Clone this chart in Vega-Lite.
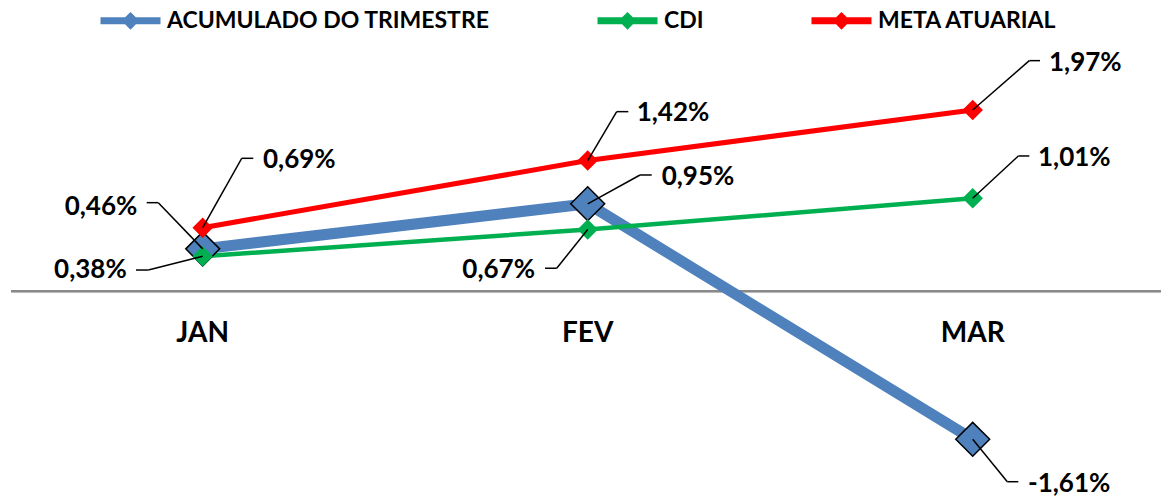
{
  "$schema": "https://vega.github.io/schema/vega-lite/v6.json",
  "width": 1150,
  "height": 497,
  "padding": {"left": 11, "top": 0, "right": 0, "bottom": 0},
  "autosize": {"type": "none"},
  "background": "white",
  "config": {
    "view": {"stroke": null},
    "font": "Lato",
    "legend": {
      "orient": "none",
      "legendX": 86,
      "legendY": -13,
      "direction": "horizontal",
      "padding": 0,
      "labelFont": "Lato",
      "labelFontSize": 23,
      "labelFontWeight": "bold",
      "labelColor": "#000000",
      "labelOffset": 3,
      "labelLimit": 600,
      "columnPadding": 93,
      "symbolSize": 3600,
      "symbolStrokeWidth": 7,
      "symbolOpacity": 1,
      "symbolType": "M-1,0H-0.13L0,-0.13L0.13,0L0,0.13L-0.13,0M0.13,0H1"
    }
  },
  "data": {
    "values": [
      {"month": "JAN", "series": "ACUMULADO DO TRIMESTRE", "value": 0.46},
      {"month": "FEV", "series": "ACUMULADO DO TRIMESTRE", "value": 0.95},
      {"month": "MAR", "series": "ACUMULADO DO TRIMESTRE", "value": -1.61},
      {"month": "JAN", "series": "CDI", "value": 0.38},
      {"month": "FEV", "series": "CDI", "value": 0.67},
      {"month": "MAR", "series": "CDI", "value": 1.01},
      {"month": "JAN", "series": "META ATUARIAL", "value": 0.69},
      {"month": "FEV", "series": "META ATUARIAL", "value": 1.42},
      {"month": "MAR", "series": "META ATUARIAL", "value": 1.97}
    ]
  },
  "transform": [
    {"calculate": "(datum.value < 0 ? '-' : '') + replace(format(abs(datum.value), '.2f'), '.', ',') + '%'", "as": "label"}
  ],
  "encoding": {
    "x": {"field": "month", "type": "ordinal", "sort": ["JAN", "FEV", "MAR"], "scale": {"type": "point", "padding": 0.4935, "align": 0.5045}, "axis": null},
    "y": {"field": "value", "type": "quantitative", "scale": {"domain": [-2.237, 3.165], "nice": false, "zero": false}, "axis": null}
  },
  "layer": [
    {
      "transform": [{"filter": "datum.series === 'CDI'"}],
      "mark": {"type": "rule", "color": "#898989", "strokeWidth": 2},
      "encoding": {"x": {"value": 0}, "x2": {"value": 1150}, "y": {"datum": 0, "type": "quantitative"}}
    },
    {
      "transform": [{"filter": "datum.series === 'CDI'"}],
      "mark": {"type": "text", "font": "Lato", "fontSize": 28, "fontWeight": "bold", "baseline": "middle", "align": "center", "color": "#000000"},
      "encoding": {"y": {"datum": -0.47, "type": "quantitative"}, "text": {"field": "month"}}
    },
    {
      "transform": [{"filter": "datum.series === 'ACUMULADO DO TRIMESTRE'"}],
      "mark": {"type": "line", "strokeWidth": 11, "strokeCap": "round", "strokeJoin": "round"},
      "encoding": {
        "color": {
          "field": "series", "type": "nominal",
          "scale": {"domain": ["ACUMULADO DO TRIMESTRE", "CDI", "META ATUARIAL"], "range": ["#4F81BD", "#00B050", "#FF0000"]},
          "legend": {"title": null}
        }
      }
    },
    {
      "transform": [{"filter": "datum.series === 'CDI'"}],
      "mark": {"type": "line", "strokeWidth": 4.5, "strokeCap": "round", "strokeJoin": "round"},
      "encoding": {"color": {"field": "series", "type": "nominal"}}
    },
    {
      "transform": [{"filter": "datum.series === 'META ATUARIAL'"}],
      "mark": {"type": "line", "strokeWidth": 5, "strokeCap": "round", "strokeJoin": "round"},
      "encoding": {"color": {"field": "series", "type": "nominal"}}
    },
    {
      "transform": [{"filter": "datum.series === 'ACUMULADO DO TRIMESTRE'"}],
      "mark": {"type": "point", "shape": "diamond", "filled": true, "fill": "#4F81BD", "stroke": "#000000", "strokeWidth": 1.5, "size": 1150, "opacity": 1}
    },
    {
      "transform": [{"filter": "datum.series === 'CDI'"}],
      "mark": {"type": "point", "shape": "diamond", "filled": true, "fill": "#00B050", "strokeWidth": 0, "size": 420, "opacity": 1}
    },
    {
      "transform": [{"filter": "datum.series === 'META ATUARIAL'"}],
      "mark": {"type": "point", "shape": "diamond", "filled": true, "fill": "#FF0000", "strokeWidth": 0, "size": 420, "opacity": 1}
    },
    {
      "transform": [{"filter": "datum.series === 'META ATUARIAL' && datum.month === 'JAN'"}],
      "layer": [
        {"mark": {"type": "rule", "color": "#000000", "strokeWidth": 1.5, "x2Offset": 39, "y2Offset": -69.4}, "encoding": {"x2": {"field": "month"}, "y2": {"field": "value"}}},
        {"mark": {"type": "rule", "color": "#000000", "strokeWidth": 1.5, "xOffset": 39, "yOffset": -69.4, "x2Offset": 50.6, "y2Offset": -69.4}, "encoding": {"x2": {"field": "month"}, "y2": {"field": "value"}}},
        {"mark": {"type": "text", "align": "left", "baseline": "middle", "dx": 60.3, "dy": -67.7, "font": "Lato", "fontSize": 26, "fontWeight": "bold", "color": "#000000"}, "encoding": {"text": {"field": "label"}}}
      ]
    },
    {
      "transform": [{"filter": "datum.series === 'ACUMULADO DO TRIMESTRE' && datum.month === 'JAN'"}],
      "layer": [
        {"mark": {"type": "rule", "color": "#000000", "strokeWidth": 1.5, "x2Offset": -44.4, "y2Offset": -46.2}, "encoding": {"x2": {"field": "month"}, "y2": {"field": "value"}}},
        {"mark": {"type": "rule", "color": "#000000", "strokeWidth": 1.5, "xOffset": -44.4, "yOffset": -46.2, "x2Offset": -56, "y2Offset": -46.2}, "encoding": {"x2": {"field": "month"}, "y2": {"field": "value"}}},
        {"mark": {"type": "text", "align": "right", "baseline": "middle", "dx": -65.4, "dy": -42.2, "font": "Lato", "fontSize": 26, "fontWeight": "bold", "color": "#000000"}, "encoding": {"text": {"field": "label"}}}
      ]
    },
    {
      "transform": [{"filter": "datum.series === 'CDI' && datum.month === 'JAN'"}],
      "layer": [
        {"mark": {"type": "rule", "color": "#000000", "strokeWidth": 1.5, "x2Offset": -54.4, "y2Offset": 13.8}, "encoding": {"x2": {"field": "month"}, "y2": {"field": "value"}}},
        {"mark": {"type": "rule", "color": "#000000", "strokeWidth": 1.5, "xOffset": -54.4, "yOffset": 13.8, "x2Offset": -66.7, "y2Offset": 13.8}, "encoding": {"x2": {"field": "month"}, "y2": {"field": "value"}}},
        {"mark": {"type": "text", "align": "right", "baseline": "middle", "dx": -76, "dy": 13.8, "font": "Lato", "fontSize": 26, "fontWeight": "bold", "color": "#000000"}, "encoding": {"text": {"field": "label"}}}
      ]
    },
    {
      "transform": [{"filter": "datum.series === 'META ATUARIAL' && datum.month === 'FEV'"}],
      "layer": [
        {"mark": {"type": "rule", "color": "#000000", "strokeWidth": 1.5, "x2Offset": 29, "y2Offset": -48.9}, "encoding": {"x2": {"field": "month"}, "y2": {"field": "value"}}},
        {"mark": {"type": "rule", "color": "#000000", "strokeWidth": 1.5, "xOffset": 29, "yOffset": -48.9, "x2Offset": 40.6, "y2Offset": -48.9}, "encoding": {"x2": {"field": "month"}, "y2": {"field": "value"}}},
        {"mark": {"type": "text", "align": "left", "baseline": "middle", "dx": 49, "dy": -47.6, "font": "Lato", "fontSize": 26, "fontWeight": "bold", "color": "#000000"}, "encoding": {"text": {"field": "label"}}}
      ]
    },
    {
      "transform": [{"filter": "datum.series === 'ACUMULADO DO TRIMESTRE' && datum.month === 'FEV'"}],
      "layer": [
        {"mark": {"type": "rule", "color": "#000000", "strokeWidth": 1.5, "x2Offset": 52.3, "y2Offset": -28.8}, "encoding": {"x2": {"field": "month"}, "y2": {"field": "value"}}},
        {"mark": {"type": "rule", "color": "#000000", "strokeWidth": 1.5, "xOffset": 52.3, "yOffset": -28.8, "x2Offset": 64, "y2Offset": -28.8}, "encoding": {"x2": {"field": "month"}, "y2": {"field": "value"}}},
        {"mark": {"type": "text", "align": "left", "baseline": "middle", "dx": 74, "dy": -26.8, "font": "Lato", "fontSize": 26, "fontWeight": "bold", "color": "#000000"}, "encoding": {"text": {"field": "label"}}}
      ]
    },
    {
      "transform": [{"filter": "datum.series === 'CDI' && datum.month === 'FEV'"}],
      "layer": [
        {"mark": {"type": "rule", "color": "#000000", "strokeWidth": 1.5, "x2Offset": -31, "y2Offset": 38.7}, "encoding": {"x2": {"field": "month"}, "y2": {"field": "value"}}},
        {"mark": {"type": "rule", "color": "#000000", "strokeWidth": 1.5, "xOffset": -31, "yOffset": 38.7, "x2Offset": -42.7, "y2Offset": 38.7}, "encoding": {"x2": {"field": "month"}, "y2": {"field": "value"}}},
        {"mark": {"type": "text", "align": "right", "baseline": "middle", "dx": -52.7, "dy": 40.4, "font": "Lato", "fontSize": 26, "fontWeight": "bold", "color": "#000000"}, "encoding": {"text": {"field": "label"}}}
      ]
    },
    {
      "transform": [{"filter": "datum.series === 'META ATUARIAL' && datum.month === 'MAR'"}],
      "layer": [
        {"mark": {"type": "rule", "color": "#000000", "strokeWidth": 1.5, "x2Offset": 56.6, "y2Offset": -49.3}, "encoding": {"x2": {"field": "month"}, "y2": {"field": "value"}}},
        {"mark": {"type": "rule", "color": "#000000", "strokeWidth": 1.5, "xOffset": 56.6, "yOffset": -49.3, "x2Offset": 67.3, "y2Offset": -49.3}, "encoding": {"x2": {"field": "month"}, "y2": {"field": "value"}}},
        {"mark": {"type": "text", "align": "left", "baseline": "middle", "dx": 76.3, "dy": -47.3, "font": "Lato", "fontSize": 26, "fontWeight": "bold", "color": "#000000"}, "encoding": {"text": {"field": "label"}}}
      ]
    },
    {
      "transform": [{"filter": "datum.series === 'CDI' && datum.month === 'MAR'"}],
      "layer": [
        {"mark": {"type": "rule", "color": "#000000", "strokeWidth": 1.5, "x2Offset": 45.6, "y2Offset": -42.3}, "encoding": {"x2": {"field": "month"}, "y2": {"field": "value"}}},
        {"mark": {"type": "rule", "color": "#000000", "strokeWidth": 1.5, "xOffset": 45.6, "yOffset": -42.3, "x2Offset": 56.6, "y2Offset": -42.3}, "encoding": {"x2": {"field": "month"}, "y2": {"field": "value"}}},
        {"mark": {"type": "text", "align": "left", "baseline": "middle", "dx": 65.3, "dy": -40.3, "font": "Lato", "fontSize": 26, "fontWeight": "bold", "color": "#000000"}, "encoding": {"text": {"field": "label"}}}
      ]
    },
    {
      "transform": [{"filter": "datum.series === 'ACUMULADO DO TRIMESTRE' && datum.month === 'MAR'"}],
      "layer": [
        {"mark": {"type": "rule", "color": "#000000", "strokeWidth": 1.5, "x2Offset": 34.6, "y2Offset": 42.4}, "encoding": {"x2": {"field": "month"}, "y2": {"field": "value"}}},
        {"mark": {"type": "rule", "color": "#000000", "strokeWidth": 1.5, "xOffset": 34.6, "yOffset": 42.4, "x2Offset": 45.6, "y2Offset": 42.4}, "encoding": {"x2": {"field": "month"}, "y2": {"field": "value"}}},
        {"mark": {"type": "text", "align": "left", "baseline": "middle", "dx": 55.3, "dy": 44.7, "font": "Lato", "fontSize": 26, "fontWeight": "bold", "color": "#000000"}, "encoding": {"text": {"field": "label"}}}
      ]
    }
  ]
}
